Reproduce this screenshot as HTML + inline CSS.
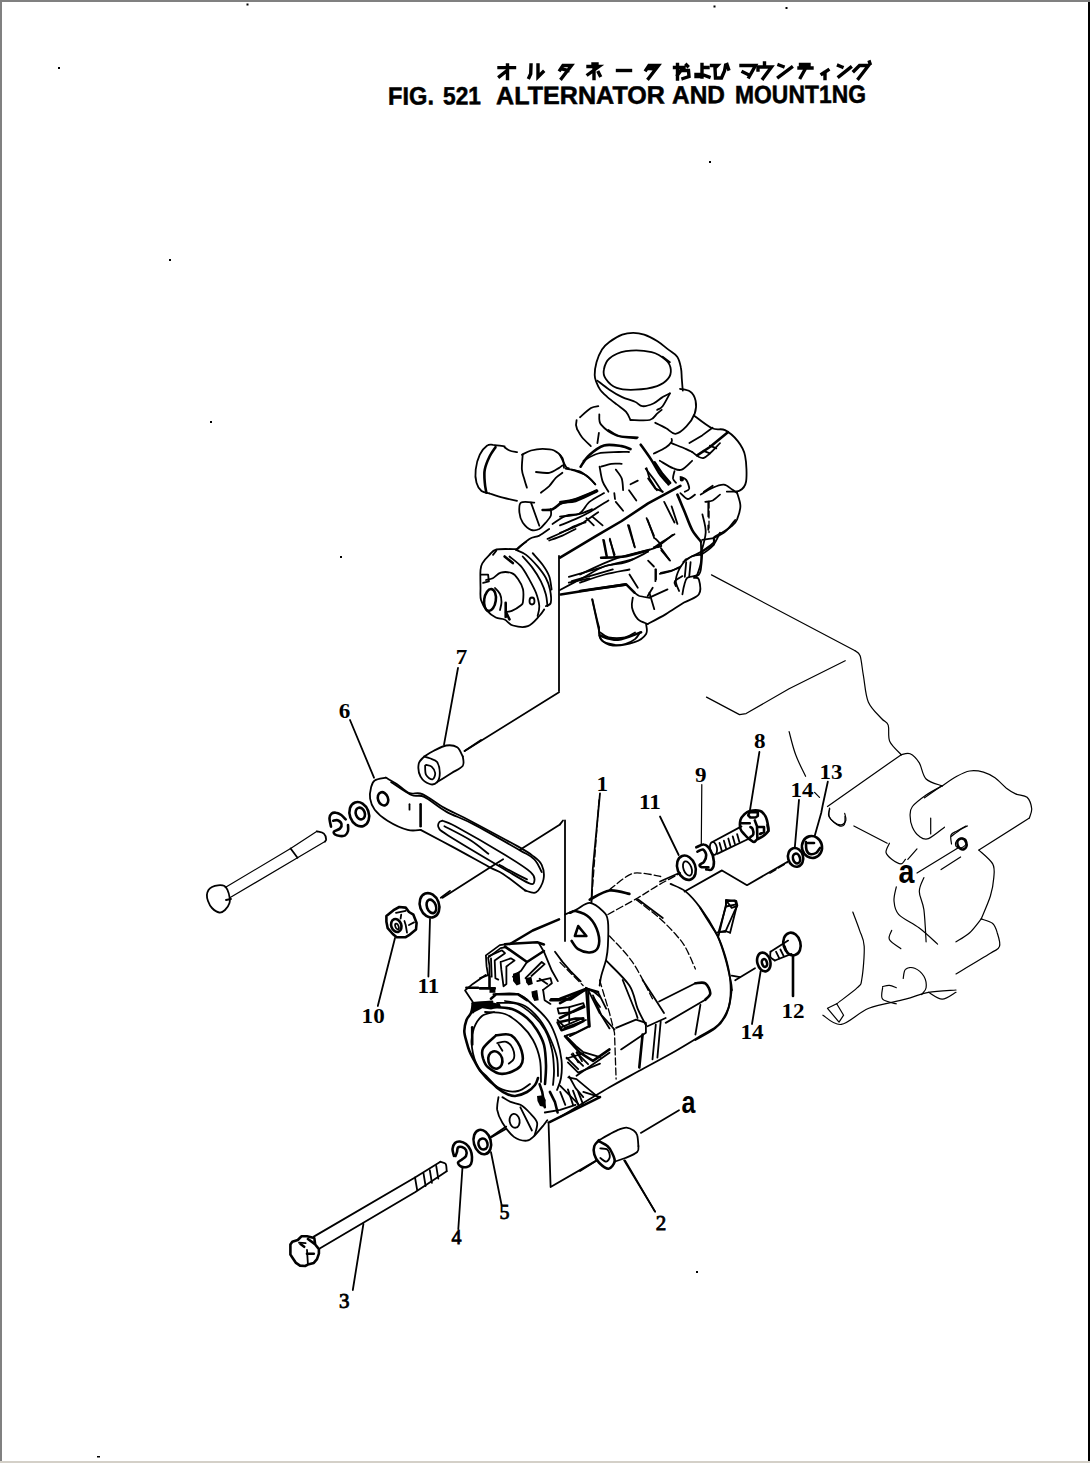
<!DOCTYPE html>
<html><head><meta charset="utf-8"><title>Alternator and Mounting</title>
<style>
html,body{margin:0;padding:0;background:#fff;}
body{width:1090px;height:1463px;position:relative;overflow:hidden;font-family:"Liberation Sans",sans-serif;}
.bt{position:absolute;left:0;top:0;width:1090px;height:2px;background:#808080;}
.bl{position:absolute;left:0;top:0;width:2px;height:1463px;background:#808080;}
.br{position:absolute;left:1088px;top:2px;width:2px;height:1459px;background:#000;}
.bb{position:absolute;left:0;top:1461px;width:1090px;height:2px;background:#d4d0c8;}
svg{position:absolute;left:0;top:0;}
#dr path,#dr ellipse{fill:none;stroke:#000;stroke-width:1.8;stroke-linejoin:round;stroke-linecap:round;}
#dr .t{stroke-width:1.2;}
#dr .tk{stroke-width:2.6;}
#dr .d{stroke-width:1.3;stroke-dasharray:7 3;}
#dr .f{fill:#000;stroke:none;}
#dr .w{fill:#fff;}
#jp path{fill:none;stroke:#000;stroke-width:3.4;stroke-linecap:square;stroke-linejoin:miter;}
#lb text{font-family:"Liberation Serif",serif;font-weight:bold;fill:#000;}
</style></head>
<body>
<svg width="1090" height="1463" viewBox="0 0 1090 1463">
<g font-family="Liberation Sans" font-weight="bold" font-size="25" fill="#000" stroke="#000" stroke-width="0.5" transform="rotate(-0.24 389 104.7)">
<text x="388" y="104.7" textLength="46" lengthAdjust="spacingAndGlyphs">FIG.</text>
<text x="443" y="104.7" textLength="38" lengthAdjust="spacingAndGlyphs">521</text>
<text x="496" y="104.7" textLength="169" lengthAdjust="spacingAndGlyphs">ALTERNATOR</text>
<text x="672" y="104.7" textLength="53" lengthAdjust="spacingAndGlyphs">AND</text>
<text x="735" y="104.7" textLength="131" lengthAdjust="spacingAndGlyphs">MOUNT1NG</text>
</g>
<g id="jp">
<!-- オ -->
<path d="M499 67.6 L514.5 67.6 M507.5 65 L507.5 78.5 M506 71.5 L499.5 76.5"/>
<!-- ル -->
<path d="M531 65 L530.7 73.8 L529 77.5 M538 65 L538 77 L543 72"/>
<!-- タ -->
<path d="M560 70 L563 65.5 L571.5 65.5 L561.5 78.5 M562 69 L568 70.5"/>
<!-- ネ -->
<path d="M588 66.5 L599 66.5 L588 74.5 M594 69 L594 78.5 M598.5 72.5 L600 75.5 M593 64 L597 64"/>
<!-- ー -->
<path d="M617.5 70.5 L630.5 70.5"/>
<!-- タ -->
<path d="M646 70 L649 65.5 L658.5 65.5 L648.5 78.5 M649 68.5 L654.5 69"/>
<!-- お -->
<path d="M674.5 67.5 L684 67.5 M677.5 64.5 L677.5 79 M677.5 75 L681 70.5 L688.5 70.5 L689 76.5 L683 78.5 M686.5 65 L687.5 66"/>
<!-- よ -->
<path d="M702 64.5 L702 77 M702 67.5 L708 67.5 M702 76.5 L696 76.5 L696 74.5 L702 74.5 L709 77"/>
<!-- び -->
<path d="M711.5 65.5 L717.5 65.5 L715 68 L715.5 78 L721.5 78 L724.5 71 L725.5 65.5 M727 64.5 L728.5 69"/>
<!-- マ -->
<path d="M741 65.5 L755.5 65.5 L749 77 M743 72 L749 75"/>
<!-- ウ -->
<path d="M764.5 63 L764.5 66 M758 67 L771.5 67 L763 78.5 M758 67 L758 70"/>
<!-- ン -->
<path d="M779 65 L783 66.5 M778.5 77 L791.5 67.5"/>
<!-- テ -->
<path d="M800.5 64.5 L809 64.5 M799 68 L812 68 M805.5 68.5 L800.5 77.5"/>
<!-- ィ -->
<path d="M828 70 L822 74 M825 72.5 L825 78.5"/>
<!-- ン -->
<path d="M838.5 65.5 L842 67 M839 76.5 L850.5 67.5"/>
<!-- グ -->
<path d="M854 71 L859.5 65.5 L868.5 65.5 L858.5 78.5 M869.5 62 L870 63.5"/>
</g>
<g id="dr">
<path d="M682.8 390.6 C682.6 388.7 682.1 382.5 681.8 378.7 C681.5 374.9 681.7 371.4 680.9 367.7 C680.2 364.0 679.4 359.8 677.2 356.7 C675.1 353.6 671.4 352.0 668.1 349.4 C664.7 346.8 661.0 343.5 657.1 341.1 C653.1 338.7 648.2 336.1 644.2 334.7 C640.2 333.3 636.9 332.8 633.2 332.8 C629.5 332.8 626.2 333.1 622.2 334.7 C618.2 336.2 612.7 339.6 609.4 342.0 C606.0 344.5 604.2 346.0 602.0 349.4 C599.9 352.7 597.7 357.9 596.5 362.2 C595.3 366.5 594.7 371.7 594.7 375.0 C594.7 378.4 595.6 379.9 596.5 382.4 C597.4 384.8 598.3 387.3 600.2 389.7 C602.0 392.2 604.8 394.6 607.5 397.1 C610.3 399.5 613.6 402.0 616.7 404.4 C619.8 406.9 623.6 409.1 625.9 411.7 C628.2 414.3 629.7 418.6 630.5 420.0"/>
<path d="M603.9 369.5 C604.5 366.2 605.7 361.6 609.4 358.5 C613.0 355.5 618.8 352.3 625.9 351.2 C632.9 350.1 644.8 350.6 651.6 352.1 C658.3 353.6 663.0 357.5 666.2 360.4 C669.4 363.3 670.5 366.5 670.8 369.5 C671.1 372.6 670.4 376.0 668.1 378.7 C665.8 381.5 662.6 384.2 657.1 386.1 C651.6 387.9 641.8 389.4 635.0 389.7 C628.3 390.0 621.6 389.7 616.7 387.9 C611.8 386.1 607.8 381.8 605.7 378.7 C603.5 375.7 603.2 372.9 603.9 369.5Z"/>
<path d="M597.4 380.6 C599.4 382.1 605.2 387.0 609.4 389.7 C613.5 392.5 617.9 395.1 622.2 397.1 C626.5 399.1 631.7 400.1 635.0 401.7 C638.4 403.2 639.3 405.9 642.4 406.2 C645.4 406.5 650.0 405.0 653.4 403.5 C656.8 402.0 659.8 398.7 662.6 397.1 C665.3 395.4 668.7 394.0 669.9 393.4"/>
<path d="M630.5 420.0 C633.7 420.0 645.3 421.1 649.7 420.0 C654.2 418.9 655.1 415.3 657.1 413.6 C659.1 411.9 660.9 410.5 661.7 409.9"/>
<path d="M680.0 388.8 C681.7 389.3 687.5 389.6 690.1 391.6 C692.7 393.5 694.8 397.1 695.6 400.7 C696.4 404.4 696.2 409.3 694.7 413.6 C693.1 417.9 689.6 423.1 686.4 426.4 C683.2 429.8 678.8 433.5 675.4 433.8 C672.0 434.1 669.6 430.1 666.2 428.3 C662.9 426.4 657.1 423.7 655.2 422.8"/>
<path d="M693.8 415.4 C696.8 417.6 706.9 425.8 712.1 428.3 C717.3 430.7 720.7 428.0 725.0 430.1 C729.2 432.2 734.4 436.8 737.8 441.1 C741.2 445.4 743.8 449.1 745.1 455.8 C746.5 462.5 747.0 475.7 746.1 481.5 C745.1 487.3 742.8 489.0 739.6 490.6 C736.4 492.3 728.9 491.4 726.8 491.6"/>
<path d="M580.0 417.2 C581.8 415.7 588.0 409.9 591.0 408.1 C594.1 406.2 597.1 406.5 598.3 406.2"/>
<path d="M599.3 414.5 C599.6 416.2 598.2 421.1 601.1 424.6 C604.0 428.1 610.7 433.3 616.7 435.6 C622.7 437.9 633.5 437.9 636.9 438.3"/>
<path d="M657.1 409.9 C658.0 409.3 660.4 409.0 662.6 406.2 C664.7 403.5 668.7 395.5 669.9 393.4"/>
<path d="M662.6 356.7 L669.9 362.2"/>
<path class="tk" d="M680.4 485.8 L648.1 503.4 L621.7 521.0 L596.7 535.7 L560.0 557.7"/>
<path class="tk" d="M580.6 466.7 C582.0 464.7 585.4 458.5 589.4 455.0 C593.3 451.4 598.7 446.9 604.0 445.4 C609.4 443.9 617.2 445.5 621.7 446.1 C626.1 446.8 629.0 448.6 630.5 449.1"/>
<path d="M583.5 460.8 C585.9 459.6 592.3 455.0 598.2 453.5 C604.0 452.0 613.6 452.3 618.7 452.0 C623.9 451.8 627.3 452.0 629.0 452.0"/>
<path d="M601.1 466.7 C602.8 466.2 608.0 464.3 611.4 463.8 C614.8 463.3 619.9 463.8 621.7 463.8"/>
<path d="M599.6 466.7 C600.1 469.1 601.1 477.2 602.6 481.4 C604.0 485.5 607.5 489.9 608.4 491.7"/>
<path d="M615.8 469.6 C616.8 471.1 620.4 475.0 621.7 478.4 C622.9 481.9 622.9 488.2 623.1 490.2"/>
<path d="M630.5 484.3 L637.8 480.6"/>
<path d="M629.0 490.2 L636.3 500.5"/>
<path d="M615.8 501.9 L623.1 510.7"/>
<path d="M614.3 493.1 L615.0 499.0"/>
<path class="tk" d="M640.7 444.7 C642.4 447.1 647.8 454.5 651.0 459.4 C654.2 464.3 656.9 469.9 659.8 474.0 C662.8 478.2 667.2 482.6 668.6 484.3"/>
<path d="M646.6 468.2 L649.5 478.4 L656.9 490.2"/>
<path d="M648.1 478.4 L655.4 488.7 L662.8 491.7"/>
<path class="tk" d="M677.4 494.6 C678.7 497.5 682.3 506.3 684.8 512.2 C687.2 518.1 689.4 524.9 692.1 529.8 C694.8 534.7 699.4 539.6 700.9 541.6"/>
<path d="M664.2 501.9 L674.5 522.5"/>
<path d="M671.6 506.3 L677.4 523.9"/>
<path d="M646.6 518.1 L653.9 535.7"/>
<path d="M629.0 525.4 L634.9 547.4"/>
<path d="M604.0 540.1 L607.0 556.2"/>
<path d="M609.9 538.6 L614.3 556.2"/>
<path d="M700.9 541.6 C700.9 545.0 701.7 556.2 700.9 562.1 C700.2 568.0 697.2 574.3 696.5 576.8"/>
<path d="M708.3 501.9 L708.3 516.6"/>
<path d="M708.3 525.4 L708.3 529.8"/>
<path d="M653.9 547.4 C655.4 546.5 659.3 543.8 662.8 541.6 C666.2 539.4 672.5 535.4 674.5 534.2"/>
<path d="M655.4 538.6 C656.4 539.8 661.5 544.5 661.3 546.0 C661.0 547.4 655.2 547.2 653.9 547.4"/>
<path d="M661.3 550.4 L670.1 560.6"/>
<path d="M648.1 560.6 L653.9 566.5"/>
<path class="tk" d="M601.1 557.7 C605.3 557.5 618.2 557.5 626.1 556.2 C633.9 555.0 644.4 551.3 648.1 550.4"/>
<path d="M560.0 590.0 C563.7 588.0 574.7 582.2 582.0 578.3 C589.4 574.3 596.7 569.2 604.0 566.5 C611.4 563.8 618.7 564.6 626.1 562.1 C633.4 559.7 644.4 553.5 648.1 551.8"/>
<path d="M568.8 576.8 C572.2 575.8 582.5 572.9 589.4 570.9 C596.2 569.0 602.6 567.0 609.9 565.0 C617.2 563.1 629.5 560.2 633.4 559.2"/>
<path d="M571.7 581.2 C575.2 580.2 585.4 577.3 592.3 575.3 C599.1 573.4 609.4 570.4 612.8 569.4"/>
<path d="M700.9 554.8 C702.9 553.3 709.5 549.6 712.7 546.0 C715.8 542.3 718.8 535.0 720.0 532.8"/>
<path d="M683.3 562.1 C684.8 561.1 689.2 557.5 692.1 556.2 C695.0 555.0 699.4 555.0 700.9 554.8"/>
<path d="M686.2 562.1 L684.8 576.8"/>
<path d="M690.6 562.1 L689.2 576.8"/>
<path d="M659.8 573.9 C661.8 573.4 668.1 572.1 671.6 570.9 C675.0 569.7 678.9 567.2 680.4 566.5"/>
<path d="M655.4 569.4 L655.4 581.2"/>
<path class="tk" d="M560.0 503.4 C562.9 502.7 571.5 501.1 577.6 499.0 C583.7 496.9 593.5 492.3 596.7 490.9"/>
<path d="M560.0 516.6 C563.2 516.1 574.2 516.1 579.1 513.7 C584.0 511.2 585.2 505.4 589.4 501.9 C593.5 498.5 601.6 494.6 604.0 493.1"/>
<path d="M560.0 525.4 C562.9 524.2 572.7 520.3 577.6 518.1 C582.5 515.9 584.2 515.1 589.4 512.2 C594.5 509.3 605.3 502.4 608.4 500.5"/>
<path d="M560.0 532.8 C562.4 531.8 570.8 528.6 574.7 526.9 C578.6 525.2 579.6 524.9 583.5 522.5 C587.4 520.0 595.7 513.9 598.2 512.2"/>
<path d="M586.4 518.1 L593.8 525.4"/>
<path d="M592.3 516.6 L602.6 525.4"/>
<path d="M659.8 460.8 C662.0 462.0 669.4 466.7 673.0 468.2 C676.7 469.6 678.7 470.9 681.8 469.6 C685.0 468.4 690.4 462.3 692.1 460.8"/>
<path d="M674.5 471.1 C674.3 472.3 672.8 476.5 673.0 478.4 C673.3 480.4 675.5 482.1 676.0 482.8"/>
<path d="M680.4 477.0 C681.3 477.5 684.8 478.0 686.2 479.9 C687.7 481.9 689.4 486.8 689.2 488.7 C688.9 490.7 685.5 491.2 684.8 491.7"/>
<path d="M680.4 493.1 C681.6 494.1 685.3 498.7 687.7 499.0 C690.2 499.2 693.8 495.3 695.0 494.6"/>
<path d="M653.9 453.5 C655.9 452.5 662.8 449.6 665.7 447.6 C668.6 445.7 670.6 443.2 671.6 441.7 C672.5 440.3 671.6 439.3 671.6 438.8"/>
<path d="M671.6 443.2 C674.0 444.2 682.8 447.6 686.2 449.1 C689.7 450.6 691.1 451.5 692.1 452.0"/>
<path d="M692.1 452.0 C694.1 453.0 699.2 459.4 703.9 457.9 C708.5 456.4 717.3 445.7 720.0 443.2"/>
<path d="M703.9 491.7 L712.7 485.8"/>
<path d="M705.3 501.9 C706.5 501.7 710.2 501.7 712.7 500.5 C715.1 499.2 718.8 495.6 720.0 494.6"/>
<path d="M577.6 430.0 C578.3 431.2 579.8 434.6 582.0 437.3 C584.2 440.0 589.4 444.7 590.8 446.1"/>
<path d="M598.9 432.9 L597.4 443.2"/>
<path d="M608.4 430.0 C610.2 431.0 613.8 434.6 618.7 435.9 C623.6 437.1 634.6 437.1 637.8 437.3"/>
<path d="M560.0 455.0 C561.0 456.9 564.4 464.5 565.9 466.7 C567.3 468.9 568.3 467.9 568.8 468.2"/>
<path d="M571.7 469.6 C574.2 470.6 582.5 473.1 586.4 475.5 C590.3 478.0 593.8 482.8 595.2 484.3"/>
<path d="M560.0 501.9 C562.4 501.4 568.6 500.9 574.7 499.0 C580.8 497.0 593.0 491.7 596.7 490.2"/>
<path d="M568.8 582.7 L589.4 578.3"/>
<path d="M504.6 446.4 C502.7 446.1 495.9 444.9 493.0 444.8 C490.1 444.6 489.4 443.9 487.2 445.6 C485.0 447.2 481.7 450.7 479.8 454.7 C477.9 458.7 476.2 464.9 475.7 469.5 C475.1 474.2 475.5 479.2 476.5 482.7 C477.5 486.3 479.3 489.2 481.5 491.0 C483.7 492.8 488.3 493.1 489.7 493.5"/>
<path class="tk" d="M495.5 447.2 C494.5 448.8 491.5 452.6 489.7 456.3 C487.9 460.0 485.6 465.1 484.8 469.5 C483.9 473.9 484.5 478.9 484.8 482.7 C485.0 486.6 486.1 491.0 486.4 492.7"/>
<path d="M504.6 447.2 C505.4 447.8 507.5 449.7 509.5 450.5 C511.6 451.4 515.7 451.9 517.0 452.2"/>
<path d="M489.7 493.5 C491.9 494.2 498.4 496.4 502.9 497.6 C507.5 498.8 514.6 500.4 517.0 500.9"/>
<path d="M521.9 454.7 C523.4 454.0 527.6 451.5 531.0 450.5 C534.4 449.6 538.7 448.9 542.6 448.9 C546.4 448.9 550.8 449.0 554.1 450.5 C557.4 452.1 560.7 455.1 562.4 458.0 C564.0 460.9 563.8 466.2 564.0 467.9"/>
<path d="M522.7 454.7 C522.6 457.2 521.6 465.4 521.9 469.5 C522.2 473.7 523.6 476.4 524.4 479.4 C525.2 482.5 526.5 486.3 526.9 487.7"/>
<path d="M536.0 472.0 C538.2 472.2 545.3 473.5 549.2 472.8 C553.0 472.2 556.9 469.1 559.1 467.9 C561.3 466.6 561.8 465.8 562.4 465.4"/>
<path d="M540.9 492.7 C542.3 491.6 546.7 488.5 549.2 486.1 C551.6 483.6 553.6 480.0 555.8 477.8 C558.0 475.6 561.3 473.7 562.4 472.8"/>
<path d="M565.7 468.7 C567.9 469.1 575.0 469.7 578.9 471.2 C582.7 472.7 586.0 475.6 588.8 477.8 C591.5 480.0 594.3 483.3 595.4 484.4"/>
<path d="M534.3 502.6 C532.1 502.6 523.6 500.9 521.1 502.6 C518.6 504.2 519.2 509.2 519.4 512.5 C519.7 515.8 520.8 519.5 522.7 522.4 C524.7 525.3 528.3 528.7 531.0 529.8 C533.8 530.9 536.8 530.2 539.3 529.0 C541.7 527.7 543.9 524.6 545.9 522.4 C547.8 520.2 550.0 518.0 550.8 515.8 C551.6 513.6 550.8 510.3 550.8 509.2"/>
<path d="M531.0 502.6 L539.3 525.7"/>
<path class="tk" d="M542.6 510.0 C544.2 509.9 549.2 510.4 552.5 509.2 C555.8 507.9 558.5 503.9 562.4 502.6 C566.2 501.2 569.8 502.8 575.6 500.9 C581.4 499.0 593.5 492.7 597.1 491.0"/>
<path d="M552.5 524.0 C554.7 522.7 561.3 517.4 565.7 515.8 C570.1 514.1 574.5 515.2 578.9 514.1 C583.3 513.0 589.9 510.0 592.1 509.2"/>
<path d="M547.5 538.9 C550.0 537.8 557.7 534.5 562.4 532.3 C567.1 530.1 571.7 527.3 575.6 525.7 C579.4 524.0 583.8 522.9 585.5 522.4"/>
<path d="M549.2 540.5 C551.4 539.7 558.0 537.5 562.4 535.6 C566.8 533.7 573.4 530.1 575.6 529.0"/>
<path d="M517.8 548.8 C519.7 547.1 525.8 541.1 529.4 538.9 C532.9 536.7 536.0 537.2 539.3 535.6 C542.6 533.9 547.5 530.1 549.2 529.0"/>
<path d="M516.8 549.2 C513.4 549.2 501.1 548.5 496.5 549.5 C491.9 550.5 491.4 553.1 489.0 555.4 C486.6 557.7 483.7 561.0 482.3 563.4 C480.9 565.8 480.8 566.0 480.5 570.0 C480.2 574.0 480.4 582.4 480.5 587.4 C480.6 592.4 479.9 596.1 481.0 600.0 C482.1 603.9 484.7 607.9 487.2 610.8 C489.7 613.7 492.9 616.0 495.8 617.5 C498.7 619.0 501.6 618.2 504.5 619.5 C507.4 620.8 509.1 624.4 513.0 625.5 C516.9 626.6 523.4 627.8 527.8 626.2 C532.2 624.6 536.6 618.8 539.3 616.0 C542.0 613.2 543.4 610.5 544.2 609.4"/>
<path d="M496.3 550.7 L493.0 554.9"/>
<path d="M516.1 549.9 C517.8 550.7 522.5 552.1 526.1 554.9 C529.6 557.6 534.3 562.6 537.6 566.4 C540.9 570.3 543.8 574.1 545.9 578.0 C547.9 581.8 549.2 585.4 550.0 589.5 C550.8 593.7 551.5 600.0 550.8 602.7 C550.1 605.5 546.7 605.5 545.9 606.1"/>
<path d="M509.5 556.5 C511.5 558.2 517.8 562.6 521.1 566.4 C524.4 570.3 526.9 575.2 529.4 579.6 C531.8 584.0 534.3 588.4 536.0 592.8 C537.6 597.2 539.0 602.2 539.3 606.1 C539.5 609.9 537.9 614.3 537.6 616.0"/>
<path d="M522.7 556.5 C524.4 558.4 529.6 563.9 532.7 568.1 C535.7 572.2 538.7 576.9 540.9 581.3 C543.1 585.7 544.8 590.4 545.9 594.5 C547.0 598.6 547.2 604.1 547.5 606.1"/>
<path d="M532.7 553.2 C534.3 555.1 539.8 560.9 542.6 564.8 C545.3 568.6 547.7 572.2 549.2 576.3 C550.7 580.5 551.2 587.3 551.6 589.5"/>
<path class="tk" d="M504.6 556.5 L512.8 563.1"/>
<path d="M486.0 580.0 C487.1 579.7 490.3 579.4 492.8 578.2 C495.3 577.0 497.6 573.4 500.8 572.6 C504.0 571.8 508.9 572.1 511.8 573.2 C514.7 574.3 516.1 576.3 518.0 579.0 C519.9 581.7 522.2 585.5 523.0 589.2 C523.8 593.0 523.3 598.8 523.0 601.5 C522.7 604.2 522.9 603.7 521.0 605.2 C519.1 606.8 514.4 609.7 511.8 610.8 C509.2 611.9 506.7 611.8 505.7 612.0"/>
<path class="tk" d="M505.7 602.8 L505.7 617.0"/>
<ellipse class="tk" cx="490" cy="600" rx="5.8" ry="11" transform="rotate(8 490 600)"/>
<path d="M495.0 588.0 C495.8 589.0 498.9 591.7 500.0 594.0 C501.1 596.3 501.5 599.3 501.5 602.0 C501.5 604.7 500.2 608.7 500.0 610.0"/>
<path d="M481.5 574.7 L488.1 574.7 L488.9 581.3 L483.1 582.9"/>
<ellipse cx="532" cy="601" rx="2.5" ry="3.5" transform="rotate(0 532 601)"/>
<path class="tk" d="M506.2 612.7 L509.5 619.3"/>
<path class="tk" d="M560.7 594.5 L592.1 589.5 L625.1 584.6"/>
<path d="M592.1 599.4 C592.7 601.9 594.3 609.4 595.4 614.3 C596.5 619.3 597.6 624.8 598.7 629.2 C599.8 633.6 599.3 638.1 602.0 640.7 C604.8 643.3 611.4 644.3 615.2 644.9 C619.1 645.4 621.8 645.0 625.1 644.0 C628.4 643.1 632.6 641.0 635.0 639.1 C637.5 637.1 639.2 633.6 640.0 632.5"/>
<path d="M600.4 632.5 C601.7 633.3 604.5 636.6 608.6 637.4 C612.7 638.2 620.7 638.2 625.1 637.4 C629.5 636.6 633.4 633.3 635.0 632.5"/>
<path d="M516.1 549.9 C516.7 549.4 517.8 548.0 519.4 546.6 C521.1 545.2 524.9 542.5 526.1 541.7"/>
<path d="M559.0 556.0 L559.0 691.0"/>
<path d="M592.4 599.3 C592.9 601.7 594.6 609.4 595.7 614.1 C596.8 618.8 598.4 625.1 599.0 627.3"/>
<path d="M599.0 627.3 C599.3 629.3 598.3 635.9 600.6 638.9 C603.0 641.9 607.4 644.9 613.0 645.5 C618.7 646.0 629.0 644.1 634.5 642.2 C640.0 640.3 644.1 637.0 646.1 633.9 C648.0 630.9 646.1 625.7 646.1 624.0"/>
<path class="tk" d="M599.8 635.6 C602.8 636.3 611.1 640.3 618.0 639.7 C624.9 639.2 637.2 633.5 641.1 632.3"/>
<path d="M632.8 597.6 C632.7 599.3 631.2 603.9 632.0 607.5 C632.8 611.1 635.2 616.3 637.8 619.1 C640.4 621.8 646.1 623.2 647.7 624.0"/>
<path d="M647.7 624.0 C650.7 622.4 659.8 617.7 665.9 614.1 C671.9 610.5 678.5 605.9 684.0 602.6 C689.5 599.3 696.4 598.2 698.9 594.3 C701.4 590.5 699.7 582.2 698.9 579.4 C698.1 576.7 694.8 578.1 693.9 577.8"/>
<path d="M702.2 553.0 C702.1 555.0 701.9 561.0 701.4 564.6 C700.8 568.2 701.2 572.3 698.9 574.5 C696.6 576.7 689.8 575.9 687.3 577.8 C684.9 579.7 684.9 583.3 684.0 586.1 C683.2 588.8 682.7 592.9 682.4 594.3"/>
<path d="M702.2 551.4 C700.5 552.2 695.0 555.0 692.3 556.3 C689.5 557.7 686.8 559.1 685.7 559.6"/>
<path d="M685.7 559.6 C684.6 561.3 680.7 566.0 679.1 569.5 C677.4 573.1 675.8 577.5 675.8 581.1 C675.8 584.7 678.5 589.4 679.1 591.0"/>
<path d="M702.2 539.8 L713.8 538.2 L713.8 544.8 L702.2 551.4"/>
<path d="M713.8 538.2 C715.7 537.1 721.7 534.6 725.3 531.6 C728.9 528.5 733.6 521.9 735.2 520.0"/>
<path d="M660.9 572.8 C662.3 572.6 666.1 572.0 669.2 571.2 C672.2 570.4 677.4 568.4 679.1 567.9"/>
<path d="M656.0 569.5 L656.0 579.4"/>
<path d="M649.4 549.7 C650.7 549.2 653.8 548.9 657.6 546.4 C661.5 543.9 670.0 536.8 672.5 534.9"/>
<path d="M660.9 548.1 L669.2 559.6"/>
<path d="M647.7 520.0 L654.3 538.2"/>
<path d="M627.9 525.0 L634.5 546.4"/>
<path d="M603.1 539.8 L606.4 556.3"/>
<path d="M609.7 539.8 L614.7 554.7"/>
<path d="M580.0 574.5 C585.5 572.0 601.5 563.8 613.0 559.6 C624.6 555.5 643.3 551.4 649.4 549.7"/>
<path d="M580.0 582.7 C584.1 581.4 596.5 576.7 604.8 574.5 C613.0 572.3 625.4 570.4 629.5 569.5"/>
<path d="M629.5 574.5 L637.8 587.7"/>
<path d="M649.4 592.7 L654.3 609.2"/>
<path d="M652.7 587.7 L647.7 596.0"/>
<path d="M649.4 597.6 L667.5 589.4"/>
<path class="tk" d="M580.0 591.0 L626.2 584.4 L634.5 592.7"/>
<path d="M634.5 592.7 C635.3 593.2 637.0 595.1 639.4 596.0 C641.9 596.8 647.7 597.3 649.4 597.6"/>
<path d="M675.8 586.1 C675.6 585.2 673.8 582.7 674.9 581.1 C676.0 579.4 681.1 577.0 682.4 576.1"/>
<path class="t" d="M711.5 574.9 L855.1 650.8"/>
<path class="t" d="M855.1 650.8 C856.0 651.6 858.7 651.6 860.1 655.8 C861.5 659.9 862.0 667.9 863.4 675.6 C864.8 683.3 865.3 694.9 868.3 702.0 C871.4 709.2 878.2 714.7 881.5 718.5 C884.8 722.4 886.8 721.3 888.2 725.1 C889.5 729.0 887.6 736.7 889.8 741.6 C892.0 746.6 899.4 752.6 901.4 754.8"/>
<path class="t" d="M941.0 786.2 L924.5 797.8"/>
<path class="t" d="M845.2 660.7 L789.1 688.8 L746.1 713.6 L739.5 714.6 L706.5 697.1"/>
<path class="t" d="M789.1 731.7 C790.2 735.6 792.9 747.4 795.7 754.8 C798.4 762.3 803.9 772.7 805.6 776.3"/>
<path class="t" d="M900.9 754.9 C902.4 754.7 907.0 752.4 910.1 753.8 C913.1 755.1 916.6 758.7 919.3 762.9 C921.9 767.1 922.3 775.2 926.1 779.0 C930.0 782.8 939.5 784.7 942.2 785.9"/>
<path class="t" d="M942.2 785.9 C944.5 784.3 951.4 779.2 956.0 776.7 C960.6 774.2 965.1 771.7 969.7 771.0 C974.3 770.2 979.3 771.0 983.5 772.1 C987.7 773.3 991.1 775.2 995.0 777.8 C998.8 780.5 1003.0 785.5 1006.4 788.2 C1009.9 790.8 1012.2 792.4 1015.6 793.9 C1019.0 795.4 1024.4 794.9 1027.1 797.3 C1029.7 799.8 1031.3 805.4 1031.7 808.8 C1032.0 812.2 1029.7 816.5 1029.4 818.0"/>
<path class="t" d="M1029.4 818.0 L978.9 850.1"/>
<path class="t" d="M942.2 785.9 C939.5 787.4 931.1 791.6 926.1 795.0 C921.2 798.5 915.1 803.1 912.4 806.5 C909.7 810.0 910.1 812.2 910.1 815.7 C910.1 819.1 910.9 823.7 912.4 827.2 C913.9 830.6 916.6 834.4 919.3 836.3 C921.9 838.2 924.2 840.2 928.4 838.6 C932.6 837.1 941.8 829.1 944.5 827.2"/>
<path class="t" d="M930.7 818.0 L930.7 834.0"/>
<path class="t" d="M829.8 808.8 C829.6 810.0 827.9 813.4 828.7 815.7 C829.4 818.0 832.3 821.0 834.4 822.6 C836.5 824.1 839.4 825.2 841.3 824.9 C843.2 824.5 845.3 822.2 845.9 820.3 C846.4 818.4 844.9 814.5 844.7 813.4"/>
<path class="t" d="M853.9 826.0 L887.2 843.2"/>
<path class="t" d="M889.4 843.2 C888.9 844.7 885.6 849.7 886.0 852.4 C886.4 855.1 889.3 857.4 891.7 859.3 C894.2 861.2 898.6 863.9 900.9 863.9 C903.2 863.9 904.7 860.0 905.5 859.3"/>
<path class="t" d="M907.8 859.3 L917.0 848.9"/>
<path class="t" d="M917.0 873.0 L958.3 847.8"/>
<ellipse class="t" cx="961" cy="843" rx="6" ry="4.5" transform="rotate(-30 961 843)"/>
<path class="t" d="M951.4 836.3 C952.9 835.2 957.9 831.2 960.6 829.4 C963.2 827.7 966.3 826.6 967.4 826.0"/>
<path class="t" d="M978.9 850.1 C981.2 852.4 990.2 859.3 992.7 863.9 C995.1 868.4 994.2 872.3 993.8 877.6 C993.4 883.0 992.5 889.1 990.4 896.0 C988.3 902.8 982.7 915.1 981.2 918.9"/>
<path class="t" d="M981.2 918.9 C983.1 919.7 990.0 921.2 992.7 923.5 C995.3 925.8 996.1 928.8 997.2 932.7 C998.4 936.5 1000.7 943.0 999.5 946.4 C998.4 949.9 997.6 948.7 990.4 953.3 C983.1 957.9 961.7 970.5 956.0 973.9"/>
<path class="t" d="M896.3 886.8 C895.9 889.1 893.7 896.0 894.0 900.6 C894.4 905.1 894.4 909.7 898.6 914.3 C902.8 918.9 912.8 923.1 919.3 928.1 C925.8 933.0 934.6 941.5 937.6 944.1"/>
<path class="t" d="M956.0 941.8 C958.3 940.3 965.5 936.5 969.7 932.7 C973.9 928.8 979.3 921.2 981.2 918.9"/>
<path class="t" d="M923.9 877.6 C923.1 879.9 919.3 886.0 919.3 891.4 C919.3 896.7 922.7 901.3 923.9 909.7 C925.0 918.1 925.8 936.5 926.1 941.8"/>
<path class="t" d="M941.1 869.6 L960.6 857.0"/>
<path class="t" d="M891.7 930.4 C891.4 931.9 887.9 936.5 889.4 939.5 C891.0 942.6 899.0 947.2 900.9 948.7"/>
<path class="t" d="M852.8 912.0 C853.9 915.1 857.7 924.6 859.6 930.4 C861.5 936.1 863.8 938.4 864.2 946.4 C864.6 954.4 863.1 971.7 861.9 978.5 C860.8 985.4 861.5 983.5 857.3 987.7 C853.1 991.9 840.1 1001.1 836.7 1003.8"/>
<path class="t" d="M822.9 1015.2 C826.0 1016.8 833.6 1025.6 841.3 1024.4 C848.9 1023.3 858.1 1012.6 868.8 1008.3 C879.5 1004.1 895.6 1001.9 905.5 999.2 C915.4 996.5 920.0 993.8 928.4 992.3 C936.9 990.8 951.4 990.4 956.0 990.0"/>
<path class="t" d="M827.5 1008.3 L836.7 1003.8 L843.6 1015.2 L839.0 1022.1Z"/>
<path class="t" d="M903.2 978.5 C903.6 977.0 903.6 971.1 905.5 969.4 C907.4 967.6 911.6 967.1 914.7 968.2 C917.7 969.4 921.9 973.0 923.9 976.2 C925.8 979.5 926.5 984.6 926.1 987.7 C925.8 990.8 922.3 993.4 921.6 994.6"/>
<path class="t" d="M882.6 987.7 C882.6 989.6 880.3 996.5 882.6 999.2 C884.9 1001.9 894.0 1003.0 896.3 1003.8"/>
<path class="t" d="M882.6 986.6 C883.7 986.4 887.2 985.2 889.4 985.4 C891.7 985.6 895.2 987.3 896.3 987.7"/>
<path class="t" d="M928.4 992.3 C930.7 993.4 937.6 999.2 942.2 999.2 C946.8 999.2 953.7 993.4 956.0 992.3"/>
<path class="t" d="M827.5 806.5 L900.9 754.9"/>
<path d="M462.8 756.5 C461.8 755.0 460.0 749.2 457.2 747.3 C454.5 745.5 450.2 744.9 446.2 745.5 C442.3 746.1 437.1 749.2 433.4 751.0 C429.7 752.8 425.7 755.6 424.2 756.5"/>
<path d="M462.8 756.5 C462.8 758.0 464.6 762.9 462.8 765.7 C460.9 768.4 456.0 770.3 451.7 773.0 C447.5 775.8 439.5 780.7 437.1 782.2"/>
<path d="M424.2 756.5 C423.3 757.7 419.3 760.5 418.7 763.9 C418.1 767.2 418.7 773.3 420.6 776.7 C422.4 780.1 427.0 783.1 429.7 784.0 C432.5 785.0 435.4 784.0 437.1 782.2 C438.7 780.4 439.8 776.4 439.8 773.0 C439.8 769.7 438.7 764.5 437.1 762.0 C435.4 759.6 431.9 759.3 429.7 758.3 C427.6 757.4 425.1 756.8 424.2 756.5"/>
<path d="M425.1 765.7 C425.3 767.2 424.8 772.6 426.1 774.9 C427.3 777.2 430.9 779.8 432.5 779.4 C434.0 779.1 435.4 775.2 435.2 773.0 C435.1 770.9 433.1 768.0 431.6 766.6 C430.0 765.2 427.0 765.1 426.1 764.8"/>
<path d="M464.6 751.0 L481.1 740.0"/>
<path d="M385.7 777.6 C383.9 778.1 377.1 778.7 374.7 780.4 C372.2 782.0 371.8 784.6 371.0 787.7 C370.2 790.8 369.5 795.0 370.1 798.7 C370.7 802.4 371.8 806.1 374.7 809.7 C377.6 813.4 382.0 817.4 387.5 820.7 C393.0 824.1 402.2 828.4 407.7 829.9 C413.2 831.4 418.4 829.9 420.6 829.9"/>
<path d="M385.7 777.6 C387.5 778.7 392.7 781.4 396.7 784.0 C400.7 786.6 405.3 791.5 409.5 793.2 C413.8 794.9 416.6 791.7 422.4 794.1 C428.2 796.6 436.5 803.5 444.4 807.9 C452.4 812.3 457.9 814.3 470.1 820.7 C482.3 827.2 507.4 840.6 517.8 846.4 C528.2 852.2 528.5 852.5 532.5 855.6 C536.5 858.7 539.8 860.8 541.7 864.8 C543.5 868.7 544.4 874.9 543.5 879.4 C542.6 884.0 539.2 890.5 536.1 892.3 C533.1 894.1 527.0 890.8 525.1 890.5"/>
<path d="M391.2 782.2 C394.6 784.3 405.9 792.6 411.4 795.0 C416.9 797.5 418.4 794.1 424.2 796.9 C430.0 799.6 438.0 807.0 446.2 811.6 C454.5 816.1 461.5 818.0 473.8 824.4 C486.0 830.8 509.5 844.3 519.6 850.1 C529.7 855.9 530.6 855.6 534.3 859.3 C538.0 862.9 540.4 870.0 541.7 872.1"/>
<path d="M420.6 829.9 C425.7 832.7 440.4 840.3 451.7 846.4 C463.1 852.5 479.9 862.0 488.4 866.6 C497.0 871.2 497.0 870.0 503.1 873.9 C509.2 877.9 521.5 887.7 525.1 890.5"/>
<path d="M442.6 820.7 C444.7 821.7 445.3 820.7 455.4 826.2 C465.5 831.7 490.6 846.1 503.1 853.8 C515.7 861.4 525.4 867.5 530.6 872.1 C535.8 876.7 534.6 879.4 534.3 881.3 C534.0 883.1 534.0 885.3 528.8 883.1 C523.6 881.0 516.6 876.4 503.1 868.4 C489.7 860.5 458.8 842.1 448.1 835.4 C437.4 828.7 440.4 830.2 438.9 828.1 C437.4 825.9 438.3 823.8 438.9 822.6 C439.5 821.3 442.0 821.0 442.6 820.7"/>
<path d="M444.4 826.2 C448.7 828.5 462.8 835.4 470.1 840.0 C477.4 844.6 485.4 851.5 488.4 853.8"/>
<path d="M499.4 864.8 C502.2 866.3 511.4 871.5 516.0 873.9 C520.6 876.4 525.1 878.5 527.0 879.4"/>
<ellipse class="tk" cx="383" cy="798.8" rx="5" ry="6.8" transform="rotate(-20 383 798.8)"/>
<path d="M409.5 804.2 L409.5 809.7"/>
<path class="tk" d="M420.6 804.2 L420.6 826.2"/>
<path d="M519.6 850.1 L560.0 824.4"/>
<path d="M442.6 897.8 L488.4 868.4 L503.1 859.3"/>
<path d="M206.9 895.0 C206.8 896.8 207.2 898.8 208.0 901.0 C208.8 903.2 210.1 906.1 212.0 908.0 C213.9 909.9 217.1 912.2 219.3 912.5 C221.5 912.8 223.3 911.6 225.0 910.0 C226.7 908.4 228.8 905.2 229.5 903.0 C230.2 900.8 229.8 899.2 229.5 897.0 C229.2 894.8 228.3 891.8 227.5 890.0 C226.7 888.2 226.1 886.8 224.5 886.0 C222.9 885.2 220.1 885.1 218.0 885.3 C215.9 885.5 213.6 886.2 212.0 887.0 C210.4 887.8 209.3 888.7 208.5 890.0 C207.7 891.3 207.0 893.2 206.9 895.0Z"/>
<path d="M226.0 900.0 L231.0 899.0"/>
<path class="t" d="M225.2 887.5 L290.6 848.5 L317.0 831.3"/>
<path d="M317.0 831.3 C318.1 831.7 322.3 832.2 323.9 833.6 C325.4 834.9 326.0 838.0 326.1 839.3 C326.3 840.6 325.2 841.2 325.0 841.6"/>
<path class="t" d="M229.8 897.8 L297.5 857.7 L325.0 841.6"/>
<path d="M290.6 848.5 L297.5 857.7"/>
<path class="tk" d="M331.0 826.7 C330.8 825.2 329.4 820.2 329.5 818.0 C329.6 815.8 330.6 814.4 331.7 813.5 C332.8 812.6 334.4 812.5 336.0 812.8 C337.6 813.0 339.7 813.9 341.3 815.0 C342.9 816.1 345.0 818.7 345.7 819.4"/>
<path class="tk" d="M333.2 820.8 C333.9 820.7 336.2 819.8 337.6 820.3 C339.0 820.8 341.1 822.6 341.5 824.0 C341.9 825.4 341.2 827.2 340.0 828.5 C338.8 829.8 334.8 830.5 334.0 831.5 C333.2 832.5 334.0 833.8 335.0 834.5 C336.0 835.2 338.3 835.8 340.0 836.0 C341.7 836.2 343.7 836.3 345.0 835.5 C346.3 834.7 347.5 832.8 348.0 831.0 C348.5 829.2 348.0 826.0 348.0 825.0"/>
<ellipse class="tk" cx="359.3" cy="814.2" rx="9.5" ry="12.5" transform="rotate(-20 359.3 814.2)"/>
<ellipse class="tk" cx="360.3" cy="813.5" rx="4.5" ry="6" transform="rotate(-20 360.3 813.5)"/>
<path class="tk" d="M386.4 916.0 L393.5 910.2 L399.3 907.0 L405.7 907.6 L409.0 912.0 L413.4 914.7 L416.6 923.0 L416.0 929.5 L409.0 935.2 L405.7 937.2 L396.7 937.2 L392.8 934.0 L387.7 928.2 L386.4 921.7Z"/>
<ellipse class="tk" cx="396.3" cy="925.5" rx="5" ry="6.7" transform="rotate(-20 396.3 925.5)"/>
<ellipse cx="397" cy="926.5" rx="1.6" ry="3" transform="rotate(-20 397 926.5)"/>
<path d="M396.0 912.8 L405.7 910.8"/>
<path d="M401.2 914.7 L400.6 918.5"/>
<path d="M404.4 921.0 L405.7 925.0 L407.0 932.7"/>
<path d="M409.0 925.0 L414.0 922.4"/>
<ellipse class="tk" cx="429.5" cy="905.3" rx="9.5" ry="12.5" transform="rotate(-20 429.5 905.3)"/>
<ellipse class="tk" cx="431.4" cy="906.4" rx="4.5" ry="7" transform="rotate(-20 431.4 906.4)"/>
<path d="M440.8 897.8 L450.0 890.9"/>
<path class="tk" d="M290.4 1244.5 L290.4 1254.6 L292.3 1257.4 L296.0 1262.9 L300.0 1265.6 L305.1 1266.0 L308.8 1264.2 L313.8 1262.9 L317.0 1259.2 L318.9 1253.7 L318.9 1249.1 L315.2 1244.5 L314.3 1238.1 L307.0 1236.3 L301.4 1236.3 L297.8 1240.0 L292.3 1241.8Z"/>
<path d="M299.0 1242.7 L305.6 1243.1"/>
<path class="tk" d="M300.5 1244.0 L304.2 1246.8"/>
<path d="M307.0 1250.0 L307.9 1263.8"/>
<path class="tk" d="M307.0 1253.7 L313.8 1253.7"/>
<path class="tk" d="M307.9 1239.0 L314.3 1243.6"/>
<path d="M313.8 1236.6 L415.0 1177.5 L440.4 1161.7"/>
<path d="M320.1 1248.2 L415.0 1192.3 L446.7 1171.2"/>
<path d="M440.4 1161.7 C441.3 1162.1 444.6 1162.2 445.6 1163.8 C446.7 1165.4 446.5 1170.0 446.7 1171.2"/>
<path d="M415.0 1177.5 L417.2 1190.2"/>
<path d="M423.5 1173.3 L425.6 1186.0"/>
<path d="M429.8 1170.1 L431.9 1182.8"/>
<path d="M436.2 1165.9 L438.3 1178.6"/>
<path class="tk" d="M454.0 1156.0 C453.8 1154.8 452.3 1151.2 452.5 1149.0 C452.7 1146.8 453.8 1144.2 455.0 1143.0 C456.2 1141.8 458.2 1141.3 460.0 1141.5 C461.8 1141.7 464.2 1142.6 466.0 1144.0 C467.8 1145.4 469.5 1147.8 470.5 1150.0 C471.5 1152.2 471.9 1154.7 472.0 1157.0 C472.1 1159.3 471.8 1162.3 471.0 1164.0 C470.2 1165.7 468.7 1166.6 467.0 1167.0 C465.3 1167.4 462.5 1167.2 461.0 1166.5 C459.5 1165.8 457.8 1163.7 458.0 1162.5 C458.2 1161.3 460.7 1160.6 462.0 1159.5 C463.3 1158.4 465.3 1157.6 466.0 1156.0 C466.7 1154.4 466.7 1151.5 466.0 1150.0 C465.3 1148.5 463.3 1147.4 462.0 1147.0 C460.7 1146.6 458.8 1146.7 458.0 1147.5 C457.2 1148.3 457.4 1150.6 457.0 1152.0 C456.6 1153.4 455.8 1155.3 455.5 1156.0"/>
<ellipse class="tk" cx="482.3" cy="1142" rx="8.5" ry="12.5" transform="rotate(-15 482.3 1142)"/>
<ellipse class="tk" cx="483" cy="1144" rx="4.5" ry="5.5" transform="rotate(-15 483 1144)"/>
<path d="M491.0 1137.4 L505.8 1129.0"/>
<path d="M464.6 751.0 L559.0 692.3"/>
<path d="M488.1 975.2 L486.6 966.4 L485.9 955.4 L499.8 945.1 L505.0 944.4"/>
<path d="M489.5 976.7 L489.5 965.7 L488.1 957.6 L500.6 948.1 L505.0 947.3"/>
<path class="tk" d="M505.0 944.4 L510.8 943.7 L537.2 942.2 L543.9 944.4"/>
<path class="tk" d="M505.0 946.6 L527.0 962.0 L543.9 951.0"/>
<path d="M527.0 962.0 L521.1 970.8 L513.0 976.7"/>
<path d="M538.7 942.9 L543.9 951.7 L551.9 970.8 L557.8 981.1"/>
<path d="M488.8 956.1 L502.0 950.3 L505.0 953.2 L494.7 960.6 L495.4 978.2 L498.3 979.6"/>
<path d="M491.0 958.3 L491.7 976.7"/>
<path d="M500.6 962.0 L510.8 958.3 L514.5 960.6 L506.4 966.4 L506.4 984.0 L503.5 986.2 L501.3 969.4 L500.6 962.0"/>
<path class="f" d="M513.0 973.8 L519.6 971.6 L520.4 984.0 L516.7 985.5 L513.0 981.1Z"/>
<path d="M525.5 978.2 L541.7 962.0 L544.6 964.2 L531.4 976.0"/>
<path class="f" d="M525.5 978.2 L531.4 976.7 L532.8 984.0 L528.4 985.5 L526.2 982.6Z"/>
<path d="M537.2 981.1 L550.5 978.2 L551.9 983.3 L543.1 989.9"/>
<path class="f" d="M531.4 991.4 L537.2 989.9 L538.7 1000.2 L534.3 1000.9 L532.1 996.5Z"/>
<path d="M543.1 989.9 L544.6 1000.2 L550.5 1003.9"/>
<path class="tk" d="M480.0 988.4 L494.7 988.4"/>
<path class="f" d="M489.5 987.0 L495.4 987.0 L495.4 992.8 L489.5 992.8Z"/>
<path class="tk" d="M489.5 976.7 L489.5 987.0"/>
<path class="tk" d="M491.0 998.7 L496.1 994.3 L518.2 994.3 L527.0 1000.2"/>
<path d="M480.0 978.2 L488.1 975.2"/>
<path class="tk" d="M550.5 1000.2 L560.0 1000.2"/>
<path d="M485.7 975.0 L472.8 983.9 L465.1 990.4 L472.8 1001.9"/>
<path class="tk" d="M472.8 1003.2 L472.8 1012.2"/>
<path class="tk" d="M466.4 987.8 L478.0 987.8"/>
<path class="tk" d="M472.8 1003.2 L492.1 1001.9"/>
<path class="tk" d="M551.2 999.4 L570.5 999.4 L585.9 989.1"/>
<path d="M585.9 987.8 L587.2 1007.1 L588.4 1025.0"/>
<path d="M557.6 1008.3 L569.2 1007.1 L583.3 1003.2 L584.6 1007.1 L573.0 1012.2 L558.9 1013.5 L557.6 1008.3"/>
<path d="M569.2 1007.1 L569.2 1022.5"/>
<path class="tk" d="M557.6 1022.5 L575.6 1018.6 L583.3 1018.6 L583.3 1021.2 L573.0 1026.3 L561.5 1030.2 L557.6 1022.5"/>
<path d="M588.4 1026.3 L575.6 1032.7 L566.6 1035.3"/>
<path d="M539.6 978.8 L547.3 983.9"/>
<path d="M555.0 951.8 L562.7 962.1 L570.5 971.1 L580.7 981.4"/>
<path d="M585.9 987.8 L593.6 991.6 L600.0 996.8"/>
<path d="M593.6 998.1 L600.0 1007.1"/>
<path class="tk" d="M473.0 1004.0 C472.7 1005.5 472.1 1010.3 471.0 1013.0 C469.9 1015.7 467.6 1017.0 466.5 1020.0 C465.4 1023.0 464.3 1027.4 464.3 1031.0 C464.3 1034.6 465.6 1038.4 466.5 1041.7 C467.4 1045.0 468.2 1048.0 469.4 1051.0 C470.6 1054.0 471.9 1056.4 473.7 1059.6 C475.5 1062.8 477.7 1067.4 480.0 1070.4 C482.3 1073.4 484.3 1074.6 487.3 1077.6 C490.3 1080.6 494.7 1085.8 498.0 1088.5 C501.3 1091.2 504.1 1092.8 507.0 1094.0 C509.9 1095.2 511.9 1096.3 515.2 1096.0 C518.5 1095.7 523.7 1093.8 527.0 1092.0 C530.3 1090.2 533.2 1087.3 535.0 1085.0 C536.8 1082.7 537.5 1079.2 538.0 1078.0"/>
<path class="f" d="M473.0 1002.0 L488.5 1001.5 L500.0 1004.0 L501.0 1007.0 L491.0 1009.4 L482.3 1008.3 L474.0 1012.5Z"/>
<path class="tk" d="M472.2 1027.3 L472.2 1044.5"/>
<path d="M494.0 1012.0 C492.0 1012.7 485.3 1013.3 482.0 1016.0 C478.7 1018.7 475.7 1023.5 474.0 1028.0 C472.3 1032.5 471.3 1037.2 471.6 1043.0 C471.9 1048.8 473.6 1057.2 476.0 1063.0 C478.4 1068.8 481.7 1073.6 486.0 1078.0 C490.3 1082.4 496.7 1087.2 502.0 1089.4 C507.3 1091.6 513.3 1091.9 518.0 1091.0 C522.7 1090.1 528.0 1085.2 530.0 1084.0"/>
<path d="M493.4 994.2 C497.5 994.2 511.0 992.2 517.8 994.2 C524.6 996.2 528.8 1001.4 534.0 1006.0 C539.2 1010.6 545.2 1016.3 549.0 1022.0 C552.8 1027.7 554.9 1033.7 557.0 1040.0 C559.1 1046.3 560.8 1053.7 561.5 1060.0 C562.2 1066.3 561.8 1073.0 561.0 1078.0 C560.2 1083.0 557.7 1088.0 557.0 1090.0"/>
<path class="tk" d="M494.0 1007.0 C497.0 1007.3 506.5 1007.2 512.0 1009.0 C517.5 1010.8 522.8 1014.5 527.0 1018.0 C531.2 1021.5 534.2 1025.5 537.0 1030.0 C539.8 1034.5 542.5 1039.2 544.0 1045.0 C545.5 1050.8 545.8 1058.5 546.0 1065.0 C546.2 1071.5 545.2 1080.8 545.0 1084.0"/>
<path d="M485.0 1012.0 C488.3 1012.3 499.0 1011.8 505.0 1014.0 C511.0 1016.2 516.3 1020.7 521.0 1025.0 C525.7 1029.3 529.8 1034.2 533.0 1040.0 C536.2 1045.8 538.7 1053.0 540.0 1060.0 C541.3 1067.0 540.8 1078.3 541.0 1082.0"/>
<path d="M497.0 1003.0 C500.3 1003.2 511.0 1002.0 517.0 1004.0 C523.0 1006.0 528.3 1010.7 533.0 1015.0 C537.7 1019.3 541.8 1024.2 545.0 1030.0 C548.2 1035.8 550.5 1043.3 552.0 1050.0 C553.5 1056.7 553.8 1064.2 554.0 1070.0 C554.2 1075.8 553.2 1082.5 553.0 1085.0"/>
<path d="M505.0 1001.0 C508.3 1001.8 519.2 1002.8 525.0 1006.0 C530.8 1009.2 535.8 1014.7 540.0 1020.0 C544.2 1025.3 547.2 1031.7 550.0 1038.0 C552.8 1044.3 555.7 1051.7 557.0 1058.0 C558.3 1064.3 557.8 1073.0 558.0 1076.0"/>
<path class="tk" d="M496.0 1035.4 C498.5 1035.4 507.1 1032.8 511.4 1035.4 C515.7 1038.0 520.2 1045.7 521.6 1050.8 C523.1 1056.0 523.6 1062.4 520.4 1066.2 C517.2 1070.1 507.7 1073.7 502.4 1073.9 C497.0 1074.2 491.5 1070.1 488.3 1067.5 C485.0 1065.0 484.0 1061.7 483.1 1058.5 C482.3 1055.3 481.0 1052.1 483.1 1048.3 C485.3 1044.4 493.8 1037.6 496.0 1035.4"/>
<ellipse class="tk" cx="495.3" cy="1060" rx="7" ry="8.8" transform="rotate(-15 495.3 1060)"/>
<path d="M497.2 1043.1 C498.7 1042.9 503.7 1041.0 506.2 1041.8 C508.8 1042.7 511.4 1045.5 512.7 1048.3 C513.9 1051.0 514.6 1056.0 513.9 1058.5 C513.3 1061.1 509.7 1062.8 508.8 1063.7"/>
<path d="M498.5 1044.4 L502.4 1050.8"/>
<path d="M498.5 1097.1 C498.3 1099.2 496.6 1105.6 497.2 1109.9 C497.9 1114.2 499.6 1118.3 502.4 1122.7 C505.2 1127.2 509.9 1133.9 513.9 1136.9 C518.0 1139.9 523.4 1140.9 526.8 1140.7 C530.2 1140.5 531.7 1138.2 534.5 1135.6 C537.3 1133.0 541.3 1127.9 543.5 1125.3 C545.6 1122.7 546.7 1121.0 547.3 1120.2"/>
<ellipse cx="514.6" cy="1120.8" rx="5" ry="7" transform="rotate(-10 514.6 1120.8)"/>
<path d="M502.4 1097.1 C503.9 1097.9 508.4 1100.9 511.4 1102.2 C514.4 1103.5 517.4 1103.1 520.4 1104.8 C523.4 1106.5 526.6 1109.5 529.4 1112.5 C532.1 1115.5 536.2 1118.9 537.1 1122.7 C537.9 1126.6 534.9 1133.5 534.5 1135.6"/>
<path d="M520.4 1107.3 L531.9 1130.5"/>
<path d="M490.8 1136.9 L506.2 1126.6"/>
<path class="tk" d="M539.6 1084.2 L542.2 1091.9 L544.8 1107.3"/>
<path class="tk" d="M548.6 1122.7 L600.0 1097.1"/>
<path d="M544.8 1112.5 L560.2 1109.9 L575.6 1104.8"/>
<path d="M566.6 1036.7 L575.6 1045.7 L583.3 1052.1 L600.0 1057.2"/>
<path d="M566.6 1058.5 L583.3 1053.4"/>
<path d="M567.9 1062.4 L578.2 1072.7 L600.0 1063.7"/>
<path d="M569.2 1076.5 L575.6 1088.1 L583.3 1097.1"/>
<path class="tk" d="M549.9 1091.9 L555.0 1102.2 L557.6 1112.5"/>
<path d="M560.2 1091.9 L565.3 1104.8"/>
<path d="M567.9 1089.4 L573.0 1104.8"/>
<path d="M573.0 1090.6 L578.2 1104.8"/>
<path d="M578.2 1091.9 L583.3 1104.8"/>
<path d="M583.3 1091.9 L600.0 1097.1"/>
<path d="M573.0 1053.4 L578.2 1062.4"/>
<path d="M576.9 1052.1 L582.0 1061.1"/>
<path d="M557.6 1020.0 L565.3 1027.7 L585.9 1020.0"/>
<path d="M565.0 914.5 C566.9 913.7 572.4 911.5 576.5 909.5 C580.6 907.6 585.3 902.7 589.7 902.9 C594.1 903.2 599.9 908.2 602.9 911.2 C606.0 914.2 607.1 915.3 607.9 921.1 C608.7 926.9 608.2 939.5 607.9 945.9 C607.6 952.2 607.3 954.1 606.2 959.1 C605.1 964.0 602.4 971.2 601.3 975.6 C600.2 980.0 599.9 983.8 599.6 985.5"/>
<path class="tk" d="M569.9 912.8 C571.0 912.6 573.2 910.4 576.5 911.2 C579.8 912.0 586.1 914.2 589.7 917.8 C593.3 921.4 596.6 927.7 598.0 932.7 C599.4 937.6 599.4 944.2 598.0 947.5 C596.6 950.8 593.0 952.2 589.7 952.5 C586.4 952.7 581.2 951.1 578.2 949.2 C575.1 947.2 572.7 942.3 571.6 940.9"/>
<path class="tk" d="M574.9 936.0 L578.2 926.1 L586.4 936.0 L574.9 936.0"/>
<path d="M565.0 820.5 L565.0 941.0"/>
<path class="d" d="M599.0 800.0 L591.4 903.0"/>
<path class="tk" d="M589.7 899.6 C593.0 898.1 602.9 891.5 609.5 890.5 C616.1 889.6 626.1 893.3 629.4 893.9"/>
<path class="d" d="M607.9 914.5 C612.8 911.7 629.1 902.9 637.6 898.0 C646.1 893.0 651.9 888.9 659.1 884.8 C666.2 880.6 677.0 875.1 680.5 873.2"/>
<path class="d" d="M609.5 889.7 C612.8 887.2 623.8 877.6 629.4 874.9 C634.9 872.1 637.3 872.9 642.6 873.2 C647.8 873.5 657.7 876.0 660.7 876.5"/>
<path d="M670.6 883.9 C673.1 885.2 680.5 887.4 685.5 891.4 C690.4 895.4 695.1 900.7 700.4 907.9 C705.6 915.0 712.7 926.3 716.9 934.3 C721.0 942.3 722.9 948.3 725.1 955.8 C727.3 963.2 729.3 971.5 730.1 978.9 C730.9 986.3 730.9 994.0 730.1 1000.4 C729.3 1006.7 727.6 1012.2 725.1 1016.9 C722.6 1021.5 720.2 1024.6 715.2 1028.4 C710.3 1032.3 698.7 1038.1 695.4 1040.0"/>
<path d="M684.6 891.5 L722.0 870.4 L747.0 885.2 L787.6 861.8"/>
<path d="M637.8 899.3 L662.8 918.0"/>
<path class="d" d="M636.0 899.6 C639.8 902.7 652.5 912.0 659.1 917.8 C665.7 923.6 671.2 929.4 675.6 934.3 C680.0 939.3 682.2 941.7 685.5 947.5 C688.8 953.3 693.8 965.4 695.4 969.0"/>
<path d="M718.5 936.0 L726.8 901.3 L735.0 900.5 L736.7 906.2 L730.1 932.7"/>
<path d="M726.8 901.3 L731.7 907.9 L736.7 906.2"/>
<path d="M716.9 932.7 L725.1 931.0 L730.1 932.7"/>
<path class="d" d="M609.5 936.0 C613.4 940.4 625.5 951.9 632.7 962.4 C639.8 972.8 649.2 992.7 652.5 998.7"/>
<path d="M606.2 960.7 C610.1 964.9 624.1 977.5 629.4 985.5 C634.6 993.5 634.9 1002.0 637.6 1008.6 C640.4 1015.2 644.5 1022.4 645.9 1025.1"/>
<path class="d" d="M560.0 962.4 L583.1 985.5"/>
<path d="M586.4 988.8 L589.7 1026.8"/>
<path class="tk" d="M560.0 998.7 L586.4 988.8 L598.0 992.1"/>
<path d="M593.0 995.4 L601.3 1015.2 L609.5 1028.4"/>
<path d="M598.0 992.1 L606.2 1008.6"/>
<path d="M731.7 975.6 L740.0 977.2"/>
<path d="M560.0 1117.1 C568.3 1112.1 596.3 1095.0 609.5 1087.3 C622.7 1079.6 628.3 1076.9 639.3 1070.8 C650.3 1064.8 665.4 1056.8 675.6 1051.0 C685.8 1045.2 693.2 1040.5 700.4 1036.1 C707.5 1031.7 713.8 1029.3 718.5 1024.6 C723.2 1019.9 726.2 1013.9 728.4 1008.1 C730.6 1002.3 731.2 992.9 731.7 989.9"/>
<path d="M659.1 1001.5 L695.4 983.3"/>
<path class="tk" d="M695.4 983.3 C697.1 983.3 702.8 981.7 705.3 983.3 C707.8 985.0 710.3 990.5 710.3 993.2 C710.3 996.0 706.1 998.7 705.3 999.8"/>
<path d="M705.3 999.8 L665.7 1022.9"/>
<path d="M616.1 1027.9 L636.0 1019.6 L645.9 1022.9 L645.9 1032.8 L621.1 1049.4"/>
<path class="tk" d="M642.6 1034.5 L639.3 1067.5"/>
<path d="M647.5 1026.2 L665.7 1018.0"/>
<path d="M655.8 1024.6 L652.5 1059.3"/>
<path d="M660.7 1021.3 L657.4 1057.6"/>
<path d="M700.4 1004.8 L695.4 1034.5"/>
<path class="d" d="M599.6 980.0 L609.5 1013.0 L614.5 1032.8 L616.1 1079.1"/>
<path d="M588.1 989.9 L599.6 1013.0 L614.5 1029.5"/>
<path d="M622.7 980.0 L636.0 1013.0 L637.6 1018.0"/>
<path d="M642.6 980.0 L652.5 994.9 L664.0 1013.0"/>
<path d="M588.1 989.9 L589.7 1026.2 L569.9 1036.1"/>
<path class="tk" d="M565.0 1036.1 L579.8 1052.7 L593.0 1060.9 L609.5 1049.4"/>
<path d="M568.3 1077.4 L576.5 1079.1 L596.3 1095.6"/>
<path d="M560.0 1085.7 L578.2 1103.8"/>
<path d="M566.6 1057.6 L578.2 1069.2"/>
<path d="M571.6 1054.3 L583.1 1065.9"/>
<path d="M576.5 1052.7 L588.1 1064.2"/>
<path class="tk" d="M560.0 1003.1 L584.8 989.9"/>
<path class="tk" d="M560.0 1018.0 L583.1 1006.4"/>
<path d="M560.0 1027.9 L583.1 1018.0"/>
<path d="M576.5 1075.8 L609.5 1052.7"/>
<path class="tk" d="M749.7 810.9 C752.4 810.3 757.7 810.0 760.3 810.9 C762.9 811.8 764.2 814.0 765.5 816.4 C766.8 818.8 767.6 823.0 768.0 825.5 C768.4 828.0 768.9 829.6 768.0 831.4 C767.1 833.2 764.7 834.9 762.9 836.2 C761.1 837.6 758.5 838.5 757.0 839.5 C755.5 840.5 755.2 842.0 754.0 842.0 C752.8 842.0 751.2 840.7 749.7 839.5 C748.2 838.3 746.5 836.8 745.0 835.0 C743.5 833.2 741.2 831.5 740.5 829.0 C739.8 826.5 739.9 822.1 740.5 819.7 C741.1 817.3 742.7 816.0 744.2 814.5 C745.7 813.0 747.0 811.5 749.7 810.9Z"/>
<path class="tk" d="M749.7 812.0 L757.8 812.3 L757.8 816.0 L755.5 817.5 L750.4 817.5 L748.2 815.3Z"/>
<path class="tk" d="M754.8 820.4 L757.0 826.3 L757.4 838.8"/>
<path class="tk" d="M757.8 827.0 L764.0 827.0 L764.0 832.0 L760.0 834.0"/>
<path class="tk" d="M750.4 827.0 C750.8 827.3 752.1 827.7 752.6 828.9 C753.1 830.1 753.7 833.0 753.3 834.4 C752.9 835.8 750.9 836.6 750.4 837.0"/>
<path class="tk" d="M740.9 823.3 L749.7 823.3"/>
<path class="tk" d="M767.5 825.0 L768.5 831.0"/>
<path d="M712.8 841.8 L741.5 826.4"/>
<path d="M717.2 853.9 L750.3 838.0"/>
<ellipse cx="713.5" cy="848.4" rx="3.5" ry="6.5" transform="rotate(-10 713.5 848.4)"/>
<path d="M719.5 842.9 L721.7 850.6"/>
<path d="M723.9 840.7 L726.1 848.4"/>
<path d="M728.3 838.5 L730.5 846.2"/>
<path d="M732.7 836.3 L734.9 844.0"/>
<path d="M737.1 834.1 L739.3 841.8"/>
<path class="tk" d="M696.3 847.3 C697.6 846.9 701.7 844.0 704.0 844.6 C706.4 845.1 709.0 847.8 710.6 850.6 C712.3 853.5 713.8 858.5 713.9 861.7 C714.1 864.8 713.0 868.1 711.7 869.4 C710.5 870.6 707.2 869.4 706.2 869.4"/>
<path class="tk" d="M697.4 851.7 C698.4 851.4 701.5 849.0 702.9 849.5 C704.4 850.1 706.1 853.0 706.2 855.0 C706.4 857.1 705.1 860.0 704.0 861.7 C702.9 863.3 700.0 864.0 699.6 865.0 C699.3 865.9 700.4 866.8 701.8 867.2 C703.3 867.5 707.3 867.2 708.4 867.2"/>
<ellipse class="tk" cx="686.4" cy="867.7" rx="9" ry="12.5" transform="rotate(-20 686.4 867.7)"/>
<ellipse cx="687.5" cy="868.5" rx="4" ry="7.5" transform="rotate(-20 687.5 868.5)"/>
<path class="t" d="M701.8 784.5 L701.3 844.0"/>
<path d="M660.0 816.5 L678.7 855.0"/>
<path d="M759.4 752.0 L750.0 810.0"/>
<path d="M660.0 881.5 L679.8 872.7"/>
<ellipse class="tk" cx="795.6" cy="857.4" rx="7.5" ry="9.5" transform="rotate(-15 795.6 857.4)"/>
<ellipse class="tk" cx="796.5" cy="858.5" rx="3.5" ry="5" transform="rotate(-15 796.5 858.5)"/>
<ellipse class="tk" cx="812" cy="847" rx="10" ry="11" transform="rotate(-15 812 847)"/>
<path class="tk" d="M806.0 842.0 C806.1 843.3 805.8 848.0 806.5 850.0 C807.2 852.0 808.4 853.5 810.0 854.0 C811.6 854.5 814.3 854.0 816.0 853.0 C817.7 852.0 819.3 848.8 820.0 848.0"/>
<path class="tk" d="M808.0 843.0 L814.0 843.0"/>
<path d="M799.0 799.8 L794.8 847.7"/>
<path d="M827.8 781.7 L822.8 804.8 L821.2 813.0 L814.6 836.2"/>
<path class="t" d="M814.6 792.4 L819.5 797.3"/>
<path class="t" d="M829.5 808.0 C829.5 809.5 828.0 814.3 829.5 817.2 C831.0 820.1 836.0 824.2 838.5 825.4 C841.0 826.6 843.2 826.1 844.3 824.6 C845.4 823.1 844.9 817.7 845.0 816.3"/>
<path class="d" d="M770.0 873.3 L787.3 862.6"/>
<path d="M725.9 899.9 L736.3 901.0 L737.4 905.4 L734.1 912.0 L725.3 931.8 L718.7 931.8 L725.9 906.5Z"/>
<path d="M725.9 906.5 L736.3 904.3"/>
<path d="M700.0 907.6 C701.5 910.0 705.9 917.2 708.8 921.9 C711.7 926.7 714.9 930.2 717.6 936.2 C720.4 942.3 723.1 950.7 725.3 958.3 C727.5 965.8 729.7 976.1 730.8 981.4 C731.9 986.7 731.7 988.5 731.9 990.0"/>
<path d="M735.2 980.3 L755.0 968.2"/>
<ellipse class="tk" cx="763.8" cy="962" rx="6.5" ry="9.5" transform="rotate(-15 763.8 962)"/>
<ellipse class="tk" cx="764.5" cy="963" rx="2.5" ry="4" transform="rotate(-15 764.5 963)"/>
<ellipse class="tk" cx="792" cy="944" rx="8.5" ry="11.5" transform="rotate(-15 792 944)"/>
<path d="M770.5 951.7 L788.1 940.6"/>
<path d="M774.9 960.5 L791.4 953.9"/>
<path d="M770.5 951.7 C770.5 952.6 769.7 955.7 770.5 957.2 C771.2 958.6 774.1 959.9 774.9 960.5"/>
<path d="M776.0 951.7 L779.3 958.3"/>
<path d="M780.4 949.5 L783.7 956.1"/>
<path d="M784.8 946.1 L787.0 952.8"/>
<path class="tk" d="M793.0 956.0 L793.0 996.0"/>
<path d="M760.6 971.5 L752.0 1024.0"/>
<path d="M599.1 1140.1 C600.9 1139.1 606.4 1135.9 609.8 1134.1 C613.2 1132.3 616.6 1130.4 619.4 1129.4 C622.1 1128.3 624.1 1127.4 626.5 1127.6 C628.9 1127.8 631.9 1129.3 633.7 1130.5 C635.5 1131.8 636.5 1132.7 637.2 1135.3 C638.0 1137.9 638.2 1144.3 638.4 1146.1"/>
<path d="M638.4 1146.1 C638.2 1147.0 639.4 1150.0 637.2 1152.0 C635.1 1154.0 629.1 1156.4 625.3 1158.0 C621.5 1159.6 616.4 1161.0 614.6 1161.6"/>
<path class="tk" d="M599.1 1140.1 C598.3 1141.1 595.1 1143.7 594.3 1146.1 C593.5 1148.4 593.5 1151.6 594.3 1154.4 C595.1 1157.2 596.7 1160.4 599.1 1162.7 C601.5 1165.1 606.0 1168.9 608.6 1168.7 C611.2 1168.5 614.0 1164.1 614.6 1161.6 C615.2 1159.0 613.4 1155.8 612.2 1153.2 C611.0 1150.6 609.6 1148.0 607.4 1146.1 C605.2 1144.1 600.5 1142.1 599.1 1141.3"/>
<path d="M600.3 1148.4 C601.5 1148.6 605.8 1148.2 607.4 1149.6 C609.0 1151.0 610.0 1154.8 609.8 1156.8 C609.6 1158.8 607.8 1161.4 606.2 1161.6 C604.6 1161.8 601.3 1158.6 600.3 1158.0"/>
<path d="M640.8 1132.9 L679.0 1110.3"/>
<path d="M624.1 1160.4 L655.1 1211.6"/>
<path d="M580.0 1171.1 L596.7 1160.4"/>
<path d="M548.6 1124.4 L550.6 1187.0 L596.7 1160.4"/>
<path d="M350.0 720.0 L374.0 777.7"/>
<path d="M458.0 668.0 L444.0 744.6"/>
<path d="M395.0 938.0 L377.8 1006.0"/>
<path d="M430.0 919.0 L428.4 976.5"/>
<path d="M363.4 1224.0 L352.8 1290.0"/>
<path d="M462.5 1167.0 L458.3 1229.0"/>
<path d="M491.0 1152.2 L501.6 1205.0"/>
<path d="M625.0 1160.4 L655.0 1211.6"/>
<path d="M600.0 793.4 L592.8 869.0 L591.4 903.0"/>
<ellipse class="tk" cx="962" cy="844" rx="4.5" ry="5.5" transform="rotate(-20 962 844)"/>
<path class="t" d="M951.5 844.0 C951.4 842.5 950.1 837.2 951.0 835.0 C951.9 832.8 954.5 832.5 957.0 831.0 C959.5 829.5 964.5 826.8 966.0 826.0"/>
<text transform="translate(898.5 883) scale(1.1 1.3)" font-family="Liberation Sans" font-weight="bold" font-size="26" fill="#000" stroke="none">a</text>
<text transform="translate(681.5 1112.5) scale(1.0 1.25)" font-family="Liberation Sans" font-weight="bold" font-size="25" fill="#000" stroke="none">a</text>
<path d="M737.1 492.8 C737.6 495.0 740.4 501.6 740.4 506.1 C740.4 510.5 738.4 516.0 737.1 519.3 C735.7 522.6 734.6 523.7 732.1 525.9 C729.6 528.1 725.2 530.5 722.2 532.5 C719.2 534.4 715.3 535.8 713.9 537.4 C712.6 539.1 716.1 539.9 713.9 542.4 C711.7 544.9 702.9 550.6 700.7 552.3"/>
<path d="M700.7 494.5 C702.7 493.4 708.4 489.5 712.3 487.9 C716.1 486.2 720.5 484.3 723.8 484.6 C727.1 484.9 729.9 488.2 732.1 489.5 C734.3 490.9 736.2 492.3 737.1 492.8"/>
<path class="d" d="M709.0 501.1 L709.0 532.5"/>
<path d="M702.4 514.3 C702.9 517.3 706.0 525.9 705.7 532.5 C705.4 539.1 701.6 550.4 700.7 553.9"/>
<path class="f" d="M537.0 1096.0 L543.0 1095.3 L545.8 1100.0 L545.0 1107.0 L540.0 1106.0 L537.5 1101.0Z"/>
<path d="M576.6 420.2 L576.0 425.0 L577.1 429.3"/>
<path class="tk" d="M510.0 944.0 L532.7 930.5 L559.0 919.4"/>
<path d="M560.0 824.4 L563.0 820.5"/>
<path class="tk" d="M697.1 455.3 L709.9 447.0 L727.9 432.2"/>
<path d="M689.4 443.1 L702.2 435.4 L712.5 427.7"/>
<path d="M703.5 450.8 L709.9 453.4"/>
<path d="M709.9 445.7 L716.3 448.3"/>
<ellipse class="f" cx="681.8" cy="479" rx="2.2" ry="2.6" transform="rotate(0 681.8 479)"/>
<path d="M645.7 468.8 L654.7 480.4 L662.4 491.9"/>
<path class="tk" d="M654.7 462.4 L662.4 473.9 L670.1 482.9"/>
</g>
<g id="lb">
<text transform="translate(338.8 717.5) scale(1.1 1)" font-size="21" >6</text>
<text transform="translate(455.8 663.5) scale(1.1 1)" font-size="21" >7</text>
<text transform="translate(361.6 1023.3) scale(1.1 1)" font-size="21" >10</text>
<text transform="translate(417.4 993.3) scale(1.1 1)" font-size="21" >11</text>
<text transform="translate(639 808.5) scale(1.1 1)" font-size="21" >11</text>
<text transform="translate(596.5 791.3) scale(1.1 1)" font-size="21" >1</text>
<text transform="translate(695 781.5) scale(1.1 1)" font-size="21" >9</text>
<text transform="translate(754 747.6) scale(1.1 1)" font-size="21" >8</text>
<text transform="translate(819.5 778.8) scale(1.1 1)" font-size="21" >13</text>
<text transform="translate(790.5 797) scale(1.1 1)" font-size="21" >14</text>
<text transform="translate(781.5 1018) scale(1.1 1)" font-size="21" >12</text>
<text transform="translate(740.5 1039) scale(1.1 1)" font-size="21" >14</text>
<text transform="translate(339 1307.5) scale(1.05 1)" font-size="20" style="font-weight:normal;stroke:#000;stroke-width:0.8">3</text>
<text transform="translate(451.5 1244) scale(1.0 1)" font-size="20" style="font-weight:normal;stroke:#000;stroke-width:0.8">4</text>
<text transform="translate(499.5 1218.5) scale(1.0 1)" font-size="20" style="font-weight:normal;stroke:#000;stroke-width:0.8">5</text>
<text transform="translate(655.8 1229.5) scale(1.0 1)" font-size="21" style="font-weight:normal;stroke:#000;stroke-width:0.8">2</text>
</g>
<g fill="#000">
<rect x="246.5" y="3.5" width="2" height="2"/>
<rect x="713.5" y="5.5" width="2" height="2"/>
<rect x="785.5" y="7" width="2" height="2"/>
<rect x="58" y="67" width="2" height="2"/>
<rect x="169" y="259" width="2" height="2"/>
<rect x="709" y="161" width="2" height="2"/>
<rect x="210" y="421" width="2" height="2"/>
<rect x="340" y="556" width="2" height="2"/>
<rect x="696" y="1271" width="2" height="2"/>
<rect x="97" y="1456" width="3" height="1.5"/>
</g>
</svg>
<div class="bt"></div><div class="bl"></div><div class="br"></div><div class="bb"></div>
</body></html>
